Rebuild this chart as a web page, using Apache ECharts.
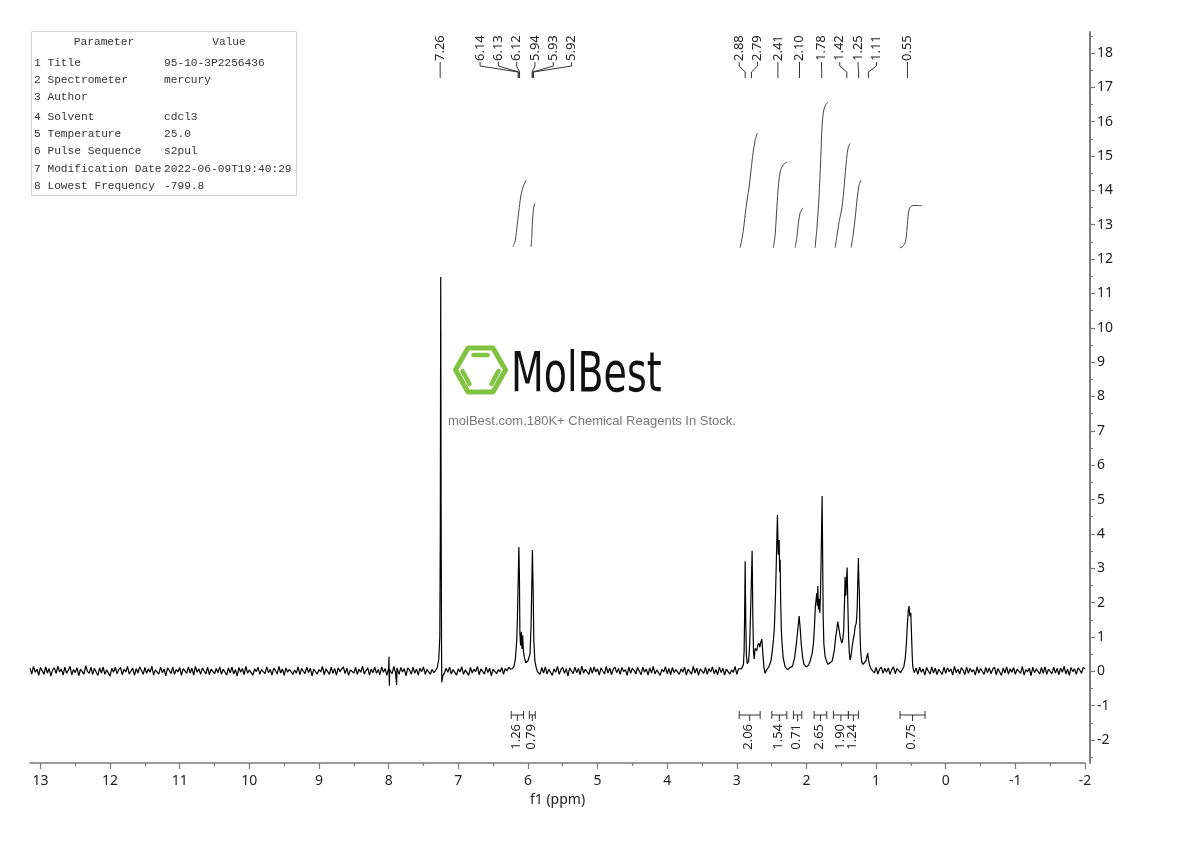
<!DOCTYPE html>
<html>
<head>
<meta charset="utf-8">
<script src="https://cdn.jsdelivr.net/npm/echarts@6/dist/echarts.min.js"></script>
<style>html,body{margin:0;padding:0;background:#fff}#c{width:1190px;height:841px}</style>
</head>
<body>
<div id="c"></div>
<script>
// ---------------- DATA ----------------
const xTickLabels = [13,12,11,10,9,8,7,6,5,4,3,2,1,0,-1,-2];
const yTickLabels = [-2,-1,0,1,2,3,4,5,6,7,8,9,10,11,12,13,14,15,16,17,18];
const xRange = [-2, 13.15];
const yRange = [-2.67, 18.61];

// baseline (noise) segments, in hundredths of an intensity unit,
// sampled every 0.025 ppm from the given start ppm
const baselineStarts = [13.15, 7.20, 5.85, 1.05, 0.45];
const baselineStep = 0.025;
const baselineA = [9,-8,14,-3,6,-12,11,2,-9,13,-5,8,-14,4,10,-7,15,-2,7,-11,
12,-6,3,14,-10,5,-4,11,-13,6,9,-8,16,0,-6,12,-9,8,3,-12,
10,-5,13,-9,4,7,-14,9,-3,12,-7,5,11,-10,6,-2,14,-8,1,9,
-12,8,-5,13,2,-9,11,-6,7,-3,15,-11,4,9,-8,12,-4,6,-13,10,
3,-7,12,-9,5,-2,11,-12,8,4,-6,13,-5,9,-11,14,-3,7,-9,10,
1,-8,12,-10,6,10,-7,8,-4,13,-9,6,2,-11,10,-5,12,-8,5,-14,
11,-3,8,-10,14,-6,4,9,-12,7,-1,12,-9,5,10,-7,13,-4,6,-11,
9,2,-8,14,-5,7,-12,10,-3,6,11,-9,4,-6,13,-10,8,0,-7,12,
-4,9,-13,6,11,-8,5,-2,14,-10,7,3,-9,12,-6,8,-11,10,-1,6,
13,-7,9,-12,4,8,-5,11,-9,6,-3,15,-8,2,10,-11,7,-4,12,-6,
5,-10,13,-3,8,-12,9,1,-7,14,-5,6,-9,11,-2,8,-13,10,4,-8,
12,-6,7,-11,9,-1,13,-9,5,10,-8,6,-4];
const baselineB = [-6,9,-3,12,-8,5,10,-11,7,-2,13,-9,4,8,-12,11,-5,6,-1,14,-10,7,3,-8,12,-4,9,-13,6,10,-7,5,-2,11,-9,8,1,12,6];
const baselineC = [3,-9,11,-5,13,-8,6,10,-12,7,-3,14,-9,5,11,-6,8,-13,10,1,
-7,12,-4,8,-10,15,-5,6,3,-9,11,-6,13,-2,7,-11,10,0,-8,14,
-5,9,-10,6,12,-4,8,-9,11,-1,5,-12,13,-6,9,2,-8,11,6,-10,
12,-3,7,-11,10,-5,14,-8,4,9,-12,6,-2,13,-7,8,-10,11,-4,5,
10,-9,7,-3,12,-11,6,1,-8,14,-5,9,-12,7,3,-6,11,-9,8,-2,
13,-7,5,-10,12,-4,9,-11,6,10,-8,4,-3,14,-9,7,12];
const baselineD = [7,-5,11,-8,6,12,-6,9,-3,10,-9,5,13,-7,8,2,-4];
const baselineE = [-4,10,-9,12,-3,7,-11,11,1,-8,13,-5,9,-10,6,4,-9,12,-6,10,
-1,7,-11,14,-4,6,-8,11,3,-10,12,-6,9,-2,5,-11,13,-5,8,0,
-9,11,-4,10,-7,6,12,-10,8,4,-12,9,-5,13,-8,7,-3,11,-9,6,
10,-6,14,-11,5,-2,9,-13,12,-4,7,3,-8,11,-6,13,-9,6,1,-7,
12,-5,8,-10,9,-3,14,-8,6,-12,11,-1,7,-9,10,4,-6,12,7];

// signal regions [ppm, intensity]
const glitchPoints = [[7.995,0.42],[7.99,-0.42],[7.985,0.05],[7.885,-0.4],[7.88,0.1]];
const solventPeak = [[7.32,0.04],[7.3,0.12],[7.28,0.35],[7.265,1.0],[7.258,4.0],[7.252,11.48],[7.246,4.5],[7.24,0.6],[7.236,-0.32],[7.23,-0.28],[7.22,-0.12]];
const olefinPeaks = [[6.22,0.08],[6.2,0.15],[6.18,0.35],[6.16,0.9],[6.15,1.6],[6.14,2.6],[6.13,3.62],[6.122,2.8],[6.115,1.1],[6.105,0.75],[6.095,1.15],[6.085,0.65],[6.075,1.05],[6.065,0.6],[6.05,0.4],[6.03,0.25],[6.0,0.3],[5.97,0.5],[5.955,1.3],[5.945,2.4],[5.935,3.53],[5.925,2.4],[5.915,0.9],[5.9,0.3],[5.88,0.1],[5.86,-0.02]];
const aliphaticPeaks = [[2.93,0.08],[2.905,0.2],[2.895,0.6],[2.888,1.6],[2.88,3.2],[2.872,1.5],[2.862,0.45],[2.85,0.22],[2.842,0.18],[2.83,0.3],[2.815,0.8],[2.8,1.9],[2.78,3.51],[2.77,1.6],[2.76,0.55],[2.75,0.36],[2.737,0.67],[2.725,0.72],[2.713,0.6],[2.7,0.75],[2.685,0.82],[2.67,0.7],[2.655,0.85],[2.641,0.94],[2.625,0.5],[2.61,0.1],[2.594,-0.06],[2.57,0.05],[2.54,0.13],[2.51,0.3],[2.49,0.6],[2.474,0.91],[2.46,1.3],[2.445,2.2],[2.43,3.4],[2.417,4.55],[2.405,3.4],[2.392,3.82],[2.385,2.9],[2.378,3.25],[2.37,2.0],[2.362,1.3],[2.354,0.91],[2.335,0.4],[2.306,0.13],[2.27,0.05],[2.24,0.1],[2.2,0.15],[2.17,0.4],[2.145,0.8],[2.125,1.2],[2.105,1.61],[2.09,1.25],[2.075,0.8],[2.055,0.4],[2.035,0.2],[2.0,0.13],[1.97,0.18],[1.947,0.3],[1.92,0.5],[1.9,0.8],[1.885,1.3],[1.872,1.9],[1.851,2.28],[1.844,1.9],[1.837,2.48],[1.828,1.8],[1.818,2.1],[1.808,1.7],[1.798,2.3],[1.79,3.2],[1.782,4.2],[1.775,5.1],[1.768,3.5],[1.76,1.6],[1.75,0.8],[1.732,0.43],[1.71,0.28],[1.69,0.2],[1.66,0.25],[1.63,0.3],[1.6,0.6],[1.58,1.0],[1.565,1.2],[1.55,1.45],[1.541,1.49],[1.53,1.2],[1.515,1.0],[1.503,0.9],[1.493,0.82],[1.48,0.9],[1.465,1.2],[1.455,1.9],[1.445,2.75],[1.435,2.2],[1.425,2.6],[1.416,3.02],[1.405,1.9],[1.395,1.0],[1.385,0.55],[1.373,0.33],[1.36,0.45],[1.345,0.7],[1.33,0.9],[1.315,1.05],[1.302,1.29],[1.285,1.4],[1.272,1.8],[1.263,2.6],[1.254,3.3],[1.247,2.6],[1.24,2.28],[1.232,1.2],[1.222,0.6],[1.206,0.27],[1.19,0.2],[1.165,0.18],[1.145,0.3],[1.13,0.45],[1.12,0.53],[1.11,0.35],[1.095,0.18],[1.075,0.08]];
const highFieldPeak = [[0.62,0.06],[0.6,0.15],[0.58,0.4],[0.565,0.8],[0.55,1.4],[0.538,1.75],[0.527,1.9],[0.515,1.6],[0.502,1.7],[0.49,1.0],[0.48,0.4],[0.474,0.15],[0.462,0.02]];

// peak picking labels
const peakLabels = [7.26,6.14,6.13,6.12,5.94,5.93,5.92,2.88,2.79,2.41,2.10,1.78,1.42,1.25,1.11,0.55];

// integrals
const integralFrom = [6.24,5.98,2.966,2.497,2.187,1.89,1.613,1.398,0.656];
const integralTo   = [6.062,5.894,2.665,2.282,2.067,1.708,1.398,1.254,0.297];
const integralValues = [1.26,0.79,2.06,1.54,0.71,2.65,1.90,1.24,0.75];
const integralCurves = [
  [[6.214,12.35],[6.181,12.55],[6.153,13.0],[6.124,13.5],[6.096,13.9],[6.06,14.15],[6.023,14.3]],
  [[5.956,12.35],[5.945,12.6],[5.935,13.1],[5.92,13.45],[5.905,13.6],[5.894,13.63]],
  [[2.952,12.33],[2.909,12.8],[2.88,13.3],[2.852,13.72],[2.823,14.1],[2.795,14.6],[2.766,15.1],[2.737,15.45],[2.708,15.67]],
  [[2.474,12.33],[2.45,12.7],[2.425,13.5],[2.4,14.2],[2.37,14.6],[2.33,14.75],[2.28,14.83]],
  [[2.163,12.33],[2.14,12.6],[2.115,13.05],[2.09,13.35],[2.05,13.49]],
  [[1.876,12.33],[1.85,12.9],[1.82,13.8],[1.795,14.9],[1.775,15.9],[1.75,16.35],[1.72,16.5],[1.69,16.57]],
  [[1.589,12.33],[1.56,12.7],[1.53,13.1],[1.49,13.5],[1.455,14.2],[1.425,14.9],[1.4,15.25],[1.373,15.37]],
  [[1.359,12.33],[1.33,12.7],[1.3,13.2],[1.27,13.8],[1.245,14.15],[1.216,14.3]],
  [[0.656,12.33],[0.62,12.36],[0.58,12.5],[0.555,12.9],[0.535,13.35],[0.515,13.5],[0.49,13.55],[0.44,13.56],[0.34,13.55]]
];

// parameter table
const paramNames = ['Title','Spectrometer','Author','Solvent','Temperature','Pulse Sequence','Modification Date','Lowest Frequency'];
const paramValues = ['95-10-3P2256436','mercury','','cdcl3','25.0','s2pul','2022-06-09T19:40:29','-799.8'];

const watermarkName = 'MolBest';
const watermarkSlogan = 'molBest.com,180K+ Chemical Reagents In Stock.';

// ---------------- BUILD ----------------
function segmentPoints(start, values) {
  return values.map((v, i) => [Math.round((start - i * baselineStep) * 1000) / 1000, v / 100]);
}
const baselines = [baselineA, baselineB, baselineC, baselineD, baselineE];
let spectrum = [];
baselines.forEach((seg, k) => { spectrum = spectrum.concat(segmentPoints(baselineStarts[k], seg)); });
spectrum = spectrum.concat(glitchPoints, solventPeak, olefinPeaks, aliphaticPeaks, highFieldPeak);
spectrum.sort((a, b) => b[0] - a[0]);

const xMinor = xTickLabels.slice(0, -1).map((v, i) => (v + xTickLabels[i + 1]) / 2);
const yMinor = [yTickLabels[0] - 0.5].concat(yTickLabels.map(v => v + 0.5));

const AXIS_COLOR = '#7a7a7a';
const TEXT_COLOR = '#222';
const LABEL_FONT = '13px "Noto Sans"';

function spreadLabels(xs, gap) {
  const order = xs.map((x, i) => i).sort((a, b) => xs[a] - xs[b]);
  let groups = order.map(i => ({ idx: [i], sum: xs[i], n: 1, start: xs[i] }));
  let changed = true;
  while (changed) {
    changed = false;
    for (let g = 0; g < groups.length - 1; g++) {
      const a = groups[g], b = groups[g + 1];
      if (a.start + a.n * gap > b.start) {
        const idx = a.idx.concat(b.idx);
        const sum = a.sum + b.sum, n = a.n + b.n;
        groups.splice(g, 2, { idx, sum, n, start: sum / n - (n - 1) * gap / 2 });
        changed = true;
        break;
      }
    }
  }
  const pos = new Array(xs.length);
  groups.forEach(gr => gr.idx.forEach((i, k) => { pos[i] = gr.start + k * gap; }));
  return pos;
}

function renderPeakLabel(params, api) {
  const cs = params.coordSys;
  const xs = peakLabels.map(p => api.coord([p, 0])[0]);
  const pos = spreadLabels(xs, 18.3);
  const i = params.dataIndex;
  const top = cs.y;
  const px = xs[i], lx = pos[i];
  return {
    type: 'group',
    children: [
      { type: 'text', x: lx, y: top + 29, rotation: Math.PI / 2,
        style: { text: peakLabels[i].toFixed(2), font: LABEL_FONT, fill: TEXT_COLOR, align: 'left', verticalAlign: 'middle' } },
      { type: 'polyline', shape: { points: [[lx, top + 30], [lx, top + 34], [px, top + 40], [px, top + 46]] },
        style: { stroke: '#333', lineWidth: 1, fill: null } }
    ]
  };
}

function renderIntegral(params, api) {
  const cs = params.coordSys;
  const i = params.dataIndex;
  const x1 = api.coord([integralFrom[i], 0])[0];
  const x2 = api.coord([integralTo[i], 0])[0];
  const yb = cs.y + cs.height - 48;
  const st = { stroke: '#333', lineWidth: 1 };
  return {
    type: 'group',
    children: [
      { type: 'line', shape: { x1: x1, y1: yb, x2: x2, y2: yb }, style: st },
      { type: 'line', shape: { x1: x1, y1: yb - 4, x2: x1, y2: yb + 4 }, style: st },
      { type: 'line', shape: { x1: x2, y1: yb - 4, x2: x2, y2: yb + 4 }, style: st },
      { type: 'line', shape: { x1: (x1 + x2) / 2, y1: yb, x2: (x1 + x2) / 2, y2: yb + 6 }, style: st },
      { type: 'text', x: (x1 + x2) / 2 - 1, y: yb + 9, rotation: Math.PI / 2,
        style: { text: integralValues[i].toFixed(2), font: LABEL_FONT, fill: TEXT_COLOR, align: 'right', verticalAlign: 'middle' } }
    ]
  };
}

// table graphic
const tableChildren = [
  { type: 'rect', shape: { x: 31.5, y: 31.5, width: 265, height: 164 }, style: { fill: '#fff', stroke: '#d4d4d4', lineWidth: 1 } },
  { type: 'text', x: 104, y: 42, style: { text: 'Parameter', font: '11.2px "Liberation Mono"', fill: '#333', align: 'center', verticalAlign: 'middle' } },
  { type: 'text', x: 229, y: 42, style: { text: 'Value', font: '11.2px "Liberation Mono"', fill: '#333', align: 'center', verticalAlign: 'middle' } }
];
paramNames.forEach((n, i) => {
  const y = 63 + i * 17.1 + (i >= 3 ? 3 : 0);
  tableChildren.push({ type: 'text', x: 34, y: y, style: { text: (i + 1) + ' ' + n, font: '11.2px "Liberation Mono"', fill: '#333', align: 'left', verticalAlign: 'middle' } });
  tableChildren.push({ type: 'text', x: 164, y: y, style: { text: paramValues[i], font: '11.2px "Liberation Mono"', fill: '#333', align: 'left', verticalAlign: 'middle' } });
});

// watermark graphic
const hc = [480.5, 370], hr = 25, hh = 22;
const GREEN = '#80c342';
const watermark = [
  { type: 'polygon', shape: { points: [[hc[0] - hr, hc[1]], [hc[0] - hr / 2, hc[1] - hh], [hc[0] + hr / 2, hc[1] - hh], [hc[0] + hr, hc[1]], [hc[0] + hr / 2, hc[1] + hh], [hc[0] - hr / 2, hc[1] + hh]] },
    style: { fill: null, stroke: GREEN, lineWidth: 5, lineJoin: 'round' } },
  { type: 'line', shape: { x1: hc[0] - 7, y1: hc[1] - 15, x2: hc[0] + 7, y2: hc[1] - 15 }, style: { stroke: GREEN, lineWidth: 4.5, lineCap: 'round' } },
  { type: 'line', shape: { x1: hc[0] - 18, y1: hc[1] + 1, x2: hc[0] - 11, y2: hc[1] + 14 }, style: { stroke: GREEN, lineWidth: 4.5, lineCap: 'round' } },
  { type: 'line', shape: { x1: hc[0] + 18, y1: hc[1] + 1, x2: hc[0] + 11, y2: hc[1] + 14 }, style: { stroke: GREEN, lineWidth: 4.5, lineCap: 'round' } },
  { type: 'text', x: 511, y: 377, scaleX: 0.69, style: { text: watermarkName, font: '55px "DejaVu Sans"', fill: '#111', align: 'left', verticalAlign: 'middle' } },
  { type: 'text', x: 448, y: 421, style: { text: watermarkSlogan, font: '13px "Liberation Sans"', fill: '#777', align: 'left', verticalAlign: 'middle' } }
];

const chart = echarts.init(document.getElementById('c'), null, { renderer: 'canvas', width: 1190, height: 841 });

const series = [
  { type: 'line', name: 'spectrum', data: spectrum, xAxisIndex: 0, yAxisIndex: 0, showSymbol: false, symbol: 'none',
    lineStyle: { color: '#000', width: 1.2 }, z: 3, silent: true }
];
integralCurves.forEach((c, k) => {
  series.push({ type: 'line', name: 'int' + k, data: c, xAxisIndex: 0, yAxisIndex: 0, showSymbol: false, symbol: 'none', smooth: 0.3,
    lineStyle: { color: '#444', width: 1 }, z: 3, silent: true });
});
series.push({ type: 'custom', name: 'peaks', xAxisIndex: 0, yAxisIndex: 0, data: peakLabels.map(p => [p, 0]), renderItem: renderPeakLabel, clip: false, silent: true, z: 4 });
series.push({ type: 'custom', name: 'integrals', xAxisIndex: 0, yAxisIndex: 0, data: integralFrom.map((f, i) => [f, 0]), renderItem: renderIntegral, clip: false, silent: true, z: 4 });

chart.setOption({
  animation: false,
  backgroundColor: '#fff',
  grid: { left: 30, right: 105, top: 32, bottom: 78, containLabel: false },
  xAxis: [
    { type: 'value', min: xRange[0], max: xRange[1], inverse: true, position: 'bottom',
      axisLine: { show: true, onZero: false, lineStyle: { color: AXIS_COLOR, width: 1.5 } },
      axisTick: { show: true, customValues: xTickLabels, length: 6, lineStyle: { color: AXIS_COLOR, width: 1.2 } },
      axisLabel: { show: true, customValues: xTickLabels, fontSize: 14, color: TEXT_COLOR, margin: 11, fontFamily: 'Noto Sans' },
      splitLine: { show: false },
      name: 'f1 (ppm)', nameLocation: 'middle', nameGap: 30,
      nameTextStyle: { fontSize: 14, color: TEXT_COLOR, fontFamily: 'Noto Sans' } },
    { type: 'value', min: xRange[0], max: xRange[1], inverse: true, position: 'bottom',
      axisLine: { show: false, onZero: false },
      axisTick: { show: true, customValues: xMinor, length: 3, lineStyle: { color: AXIS_COLOR, width: 1.2 } },
      axisLabel: { show: false }, splitLine: { show: false } }
  ],
  yAxis: [
    { type: 'value', min: yRange[0], max: yRange[1], position: 'right', offset: 5,
      axisLine: { show: true, onZero: false, lineStyle: { color: AXIS_COLOR, width: 2 } },
      axisTick: { show: true, customValues: yTickLabels, length: 5, lineStyle: { color: AXIS_COLOR, width: 1.2 } },
      axisLabel: { show: true, customValues: yTickLabels, fontSize: 14, color: TEXT_COLOR, margin: 7, fontFamily: 'Noto Sans' },
      splitLine: { show: false } },
    { type: 'value', min: yRange[0], max: yRange[1], position: 'right', offset: 5,
      axisLine: { show: false, onZero: false },
      axisTick: { show: true, customValues: yMinor, length: 3, lineStyle: { color: AXIS_COLOR, width: 1.2 } },
      axisLabel: { show: false }, splitLine: { show: false } }
  ],
  graphic: [
    { type: 'group', children: tableChildren, z: 10 },
    { type: 'group', children: watermark, z: 1 }
  ],
  series: series
});
</script>
</body>
</html>
